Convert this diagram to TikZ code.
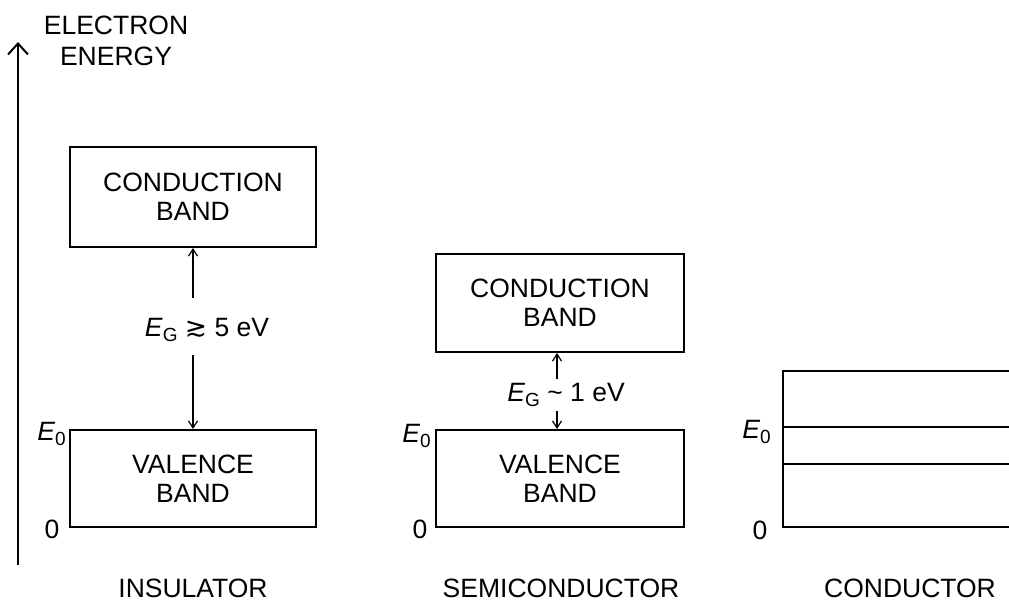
\documentclass[tikz,border=0pt]{standalone}
\usepackage{fontspec}
\setmainfont{Liberation Sans}
\newfontfamily\dejavu{DejaVu Sans}
\usetikzlibrary{arrows.meta,calc}
\newcommand\mysub[1]{\raisebox{-0.22em}{\fontsize{19}{19}\selectfont #1}}
\tikzset{
  band/.style={draw, line width=2pt, minimum width=246pt, minimum height=98pt, align=center, inner sep=0pt, font=\fontsize{26.5}{29}\selectfont},
  lbl/.style={font=\fontsize{26.5}{31}\selectfont, inner sep=0pt, align=center},
  gaparrow/.style={line width=1.5pt, -{Straight Barb[length=7pt,width=9pt,line width=1.2pt]}},
  axisarrow/.style={line width=2pt, -{Straight Barb[length=11pt,width=20pt,line width=2pt]}},
  condline/.style={line width=2pt}
}
\begin{document}
\begin{tikzpicture}[x=1pt,y=-1pt]
\useasboundingbox (0,0) rectangle (1009,603);
% axis
\coordinate (ax0) at (18,565);
\coordinate (ax1) at (18,42);
\draw[axisarrow] (ax0) -- (ax1);
\node[lbl] (axl) at (116,41) {ELECTRON\\ENERGY};

% insulator
\node[band, minimum height=100pt] (cb1) at (193,197) {CONDUCTION\\BAND};
\node[band, minimum height=97pt] (vb1) at (193,478.5) {VALENCE\\BAND};
\node[lbl] (eg1) at (207,330) {\textit{E}\mysub{G} {\dejavu ≳} 5 eV};
\coordinate (g1a) at (193,298);
\coordinate (g1b) at (193,355);
\draw[gaparrow] (g1a) -- (cb1.south);
\draw[gaparrow] (g1b) -- (vb1.north);
\node[lbl, anchor=east] (e01) at (66,434) {\textit{E}\mysub{0}};
\node[lbl] (z1) at (52,529) {0};
\node[lbl] (n1) at (193,588) {INSULATOR};

% semiconductor
\node[band, minimum width=248pt] (cb2) at (560,303) {CONDUCTION\\BAND};
\node[band, minimum width=248pt, minimum height=97pt] (vb2) at (560,478.5) {VALENCE\\BAND};
\node[lbl] (eg2) at (566,395) {\textit{E}\mysub{G} \textasciitilde{} 1 eV};
\coordinate (g2a) at (557,379);
\coordinate (g2b) at (557,411);
\draw[gaparrow] (g2a) -- (cb2.south -| g2a);
\draw[gaparrow] (g2b) -- (vb2.north -| g2b);
\node[lbl, anchor=east] (e02) at (431,436) {\textit{E}\mysub{0}};
\node[lbl] (z2) at (420,529) {0};
\node[lbl] (n2) at (561,588) {SEMICONDUCTOR};

% conductor
\draw[condline] (1012,371) -- (783,371) -- (783,527) -- (1012,527);
\draw[condline] (783,427) -- (1012,427);
\draw[condline] (783,464) -- (1012,464);
\node[lbl, anchor=east] (e03) at (771,432) {\textit{E}\mysub{0}};
\node[lbl] (z3) at (760,530) {0};
\node[lbl] (n3) at (910,588) {CONDUCTOR};
\end{tikzpicture}
\end{document}
